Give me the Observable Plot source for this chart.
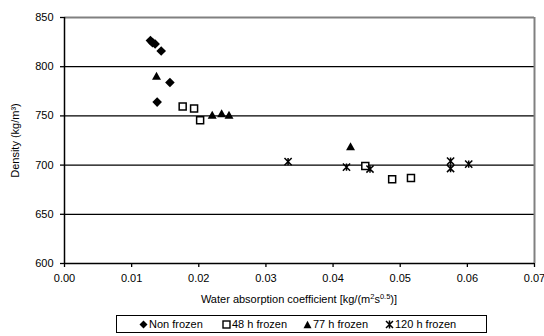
<!DOCTYPE html>
<html>
<head>
<meta charset="utf-8">
<script src="https://cdn.jsdelivr.net/npm/d3@7"></script>
<script src="https://cdn.jsdelivr.net/npm/@observablehq/plot@0.6"></script>
<style>
  html, body { margin: 0; padding: 0; background: #fff; }
  body { width: 544px; height: 336px; position: relative; font-family: "Liberation Sans", Arial, sans-serif; overflow: hidden; }
  #chart { position: absolute; left: 0; top: 0; }
  #xtitle { position: absolute; left: 64px; width: 470px; top: 292px; text-align: center; font-size: 11px; line-height: 14px; color: #000; }
  #xtitle sup { font-size: 7.5px; vertical-align: 4px; line-height: 0; }
  #legend { position: absolute; left: 116px; top: 315px; width: 371px; height: 18px; border: 1px solid #000; box-sizing: border-box; font-size: 11px; }
  .item { position: absolute; top: 0; height: 16px; line-height: 16px; white-space: nowrap; }
  .item svg { vertical-align: -1px; margin-right: 1px; }
</style>
</head>
<body>
<div id="chart"></div>
<div id="xtitle">Water absorption coefficient [kg/(m<sup>2</sup>s<sup>0.5</sup>)]</div>
<div id="legend"></div>
<script>
// ---- data ----
const seriesNames = ["Non frozen", "48 h frozen", "77 h frozen", "120 h frozen"];

const nonFrozenX = [0.0128, 0.0131, 0.0135, 0.0144, 0.0157, 0.0138];
const nonFrozenY = [826.5, 824.5, 823, 816, 784, 764];

const h48X = [0.0176, 0.0193, 0.0202, 0.0448, 0.0488, 0.0516];
const h48Y = [759.5, 757.5, 745.5, 699, 685.5, 687];

const h77X = [0.0137, 0.0220, 0.0234, 0.0245, 0.0426];
const h77Y = [790.5, 751, 752.5, 751, 719];

const h120X = [0.0333, 0.0420, 0.0455, 0.0575, 0.0575, 0.0602];
const h120Y = [703.5, 698, 696, 704, 696.5, 701];

const xTicks = [0, 0.01, 0.02, 0.03, 0.04, 0.05, 0.06, 0.07];
const yTicks = [600, 650, 700, 750, 800, 850];
const gridY = [650, 700, 750, 800];

// ---- build tables ----
const pts = (xs, ys) => xs.map((x, i) => ({x, y: ys[i]}));
const dNon = pts(nonFrozenX, nonFrozenY);
const d48 = pts(h48X, h48Y);
const d77 = pts(h77X, h77Y);
const d120 = pts(h120X, h120Y);

// ---- custom marker shapes (Excel-like) ----
const symDiamond = {draw(ctx, size) { const r = Math.sqrt(size / Math.PI);
  ctx.moveTo(0, -r); ctx.lineTo(r, 0); ctx.lineTo(0, r); ctx.lineTo(-r, 0); ctx.closePath(); }};
const symSquare = {draw(ctx, size) { const r = Math.sqrt(size / Math.PI);
  ctx.moveTo(-r, -r); ctx.lineTo(r, -r); ctx.lineTo(r, r); ctx.lineTo(-r, r); ctx.closePath(); }};
const symTriangle = {draw(ctx, size) { const r = Math.sqrt(size / Math.PI);
  ctx.moveTo(0, -r * 0.85); ctx.lineTo(r * 0.9, r * 0.75); ctx.lineTo(-r * 0.9, r * 0.75); ctx.closePath(); }};
const symStar = {draw(ctx, size) { const r = Math.sqrt(size / Math.PI);
  ctx.moveTo(-r, -r); ctx.lineTo(r, r); ctx.moveTo(r, -r); ctx.lineTo(-r, r);
  ctx.moveTo(0, -r); ctx.lineTo(0, r); }};

const chart = Plot.plot({
  width: 544,
  height: 287,
  marginLeft: 64,
  marginRight: 10,
  marginTop: 17,
  marginBottom: 24,
  style: {fontFamily: "'Liberation Sans', Arial, sans-serif", fontSize: "11px", color: "#000", background: "#fff"},
  x: {domain: [0, 0.07]},
  y: {domain: [600, 850]},
  marks: [
    Plot.ruleY(gridY, {stroke: "#000", strokeWidth: 1.2}),
    Plot.ruleY([850], {stroke: "#808080", strokeWidth: 2}),
    Plot.ruleX([0.07], {stroke: "#808080", strokeWidth: 2}),
    Plot.axisX({ticks: xTicks, tickFormat: d3.format(".2f"), tickSize: 4, tickPadding: 7, label: null, stroke: "#000", strokeWidth: 1.3}),
    Plot.axisY({ticks: yTicks, tickFormat: d3.format("d"), tickSize: 4, tickPadding: 7, label: "Density (kg/m³)", labelAnchor: "center", labelArrow: "none", labelOffset: 53, stroke: "#000", strokeWidth: 1.3}),
    Plot.ruleX([0], {stroke: "#000", strokeWidth: 1.5}),
    Plot.ruleY([600], {stroke: "#000", strokeWidth: 1.5}),
    Plot.dot(dNon, {x: "x", y: "y", symbol: symDiamond, r: 4.8, fill: "#000", stroke: "none"}),
    Plot.dot(d48, {x: "x", y: "y", symbol: symSquare, r: 3.5, fill: "#fff", stroke: "#000", strokeWidth: 1.5}),
    Plot.dot(d77, {x: "x", y: "y", symbol: symTriangle, r: 5, fill: "#000", stroke: "none"}),
    Plot.dot(d120, {x: "x", y: "y", symbol: symStar, r: 3.6, fill: "none", stroke: "#000", strokeWidth: 1.5})
  ]
});
document.getElementById("chart").appendChild(chart);

// ---- legend ----
const legendShapes = [
  `<path d="M4.5,0.5L8.5,4.5L4.5,8.5L0.5,4.5Z" fill="#000"/>`,
  `<rect x="1" y="1" width="7" height="7" fill="#fff" stroke="#000" stroke-width="1.4"/>`,
  `<path d="M4.5,0.8L8.5,8.2L0.5,8.2Z" fill="#000"/>`,
  `<path d="M1,1L8,8M8,1L1,8M4.5,0.5L4.5,8.5" stroke="#000" stroke-width="1.5" fill="none"/>`
];
const legendLeft = [22, 105, 186, 268];
const legend = document.getElementById("legend");
seriesNames.forEach((name, i) => {
  const el = document.createElement("span");
  el.className = "item";
  el.style.left = legendLeft[i] + "px";
  el.innerHTML = `<svg width="9" height="9" viewBox="0 0 9 9">${legendShapes[i]}</svg>${name}`;
  legend.appendChild(el);
});
</script>
</body>
</html>
